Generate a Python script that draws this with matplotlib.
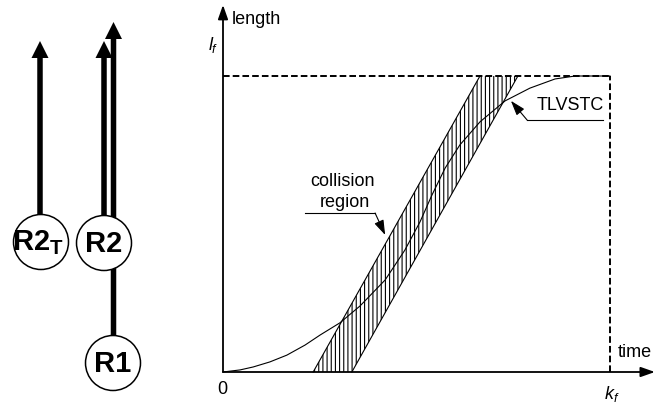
import numpy as np
import matplotlib.pyplot as plt
from matplotlib.patches import Circle, FancyArrow

plt.rcParams['font.family'] = ['Liberation Sans', 'DejaVu Sans']
plt.rcParams['mathtext.fontset'] = 'custom'
plt.rcParams['mathtext.rm'] = 'Liberation Sans'
plt.rcParams['mathtext.it'] = 'Liberation Sans:italic'
plt.rcParams['mathtext.bf'] = 'Liberation Sans:bold'
plt.rcParams['hatch.linewidth'] = 0.8

# TLVSTC curve (x in units of k_f, y in units of l_f)
curve_x = [0, 0.044, 0.078, 0.121, 0.165, 0.212, 0.251, 0.302, 0.354, 0.419,
           0.470, 0.509, 0.540, 0.574, 0.612, 0.664, 0.729, 0.793, 0.858,
           0.910, 1.0]
curve_y = [0, 0.007, 0.017, 0.034, 0.057, 0.091, 0.125, 0.166, 0.223, 0.311,
           0.412, 0.507, 0.598, 0.689, 0.767, 0.845, 0.916, 0.959, 0.990,
           1.0, 1.0]

# collision band edges
band_y = [0.0, 1.0]
band_left = [0.233, 0.664]
band_right = [0.333, 0.762]

# left schematic (pixel units): robots and their arrows
robots = ["R2T", "R2", "R1"]
robot_cx = [41, 104, 113]
robot_cy = [242, 243, 363]
robot_labels = [r'$\mathbf{R2}_{\mathbf{T}}$', 'R2', 'R1']
arrow_x = [40, 104, 113.5]
arrow_tip = [41, 41, 22]

W, H = 666, 405
fig = plt.figure(figsize=(W / 100, H / 100), dpi=100)

# ---- left schematic ----
axl = fig.add_axes([0, 0, 180 / W, 1])
axl.set_xlim(0, 180)
axl.set_ylim(H, 0)
axl.axis('off')
for x, cy, tip in zip(arrow_x, robot_cy, arrow_tip):
    axl.add_patch(FancyArrow(x, cy, 0, tip - cy, width=5.5, head_width=17,
                             head_length=17, length_includes_head=True,
                             color='black', lw=0, zorder=1))
for cx, cy, lab in zip(robot_cx, robot_cy, robot_labels):
    axl.add_patch(Circle((cx, cy), 27.5, facecolor='white', edgecolor='black',
                         lw=1.1, zorder=3))
    axl.text(cx - (3 if 'T' in lab else 0), cy + 1, lab, ha='center', va='center',
             fontsize=21, fontweight='bold', zorder=4)

# ---- main chart ----
xmin, xmax, ymin, ymax = -0.1, 1.14, -0.1, 1.255
px_x, px_y = 387, 296
ax = fig.add_axes([(223 + xmin * px_x) / W, (33 + ymin * px_y) / H,
                   (xmax - xmin) * px_x / W, (ymax - ymin) * px_y / H])
ax.set_xlim(xmin, xmax)
ax.set_ylim(ymin, ymax)
ax.axis('off')

ax.fill_betweenx(band_y, band_left, band_right, facecolor='none',
                 edgecolor='black', hatch='||||', linewidth=0)
ax.plot(band_left, band_y, color='black', lw=0.8)
ax.plot(band_right, band_y, color='black', lw=0.8)
ax.plot(curve_x, curve_y, color='black', lw=0.8)

ax.plot([0, 1], [1, 1], color='black', lw=1.4, ls=(0, (3.4, 1.6)))
ax.plot([1, 1], [0, 1], color='black', lw=1.4, ls=(0, (3.4, 1.6)))

ap = dict(arrowstyle='-|>,head_length=0.85,head_width=0.3', color='black',
          lw=1.3, shrinkA=0, shrinkB=0)
ax.annotate('', xy=(1.116, 0), xytext=(0, 0), arrowprops=ap)
ax.annotate('', xy=(0, 1.24), xytext=(0, 0), arrowprops=ap)

fs = 13
ax.text(0.023, 1.19, 'length', fontsize=fs, va='center', ha='left')
ax.text(-0.012, 1.105, r'$l_f$', fontsize=fs, va='center', ha='right')
ax.text(1.021, 0.066, 'time', fontsize=fs, va='center', ha='left')
ax.text(-0.003, -0.06, '0', fontsize=fs, va='center', ha='center')
ax.text(1.005, -0.075, r'$k_f$', fontsize=fs, va='center', ha='center')

# TLVSTC label
ax.text(0.811, 0.902, 'TLVSTC', fontsize=fs, va='center', ha='left')
ax.plot([0.786, 0.982], [0.851, 0.851], color='black', lw=0.8)
ax.annotate('', xy=(0.744, 0.916), xytext=(0.786, 0.851),
            arrowprops=dict(arrowstyle='-|>,head_length=0.9,head_width=0.3',
                            color='black', lw=0.8, shrinkA=0, shrinkB=0))

# collision region label
ax.text(0.31, 0.645, 'collision', fontsize=fs, va='center', ha='center')
ax.text(0.315, 0.571, 'region', fontsize=fs, va='center', ha='center')
ax.plot([0.212, 0.393], [0.537, 0.537], color='black', lw=0.8)
ax.annotate('', xy=(0.419, 0.463), xytext=(0.393, 0.537),
            arrowprops=dict(arrowstyle='-|>,head_length=0.9,head_width=0.3',
                            color='black', lw=0.8, shrinkA=0, shrinkB=0))

fig.savefig('out.png', dpi=100, facecolor='white')
